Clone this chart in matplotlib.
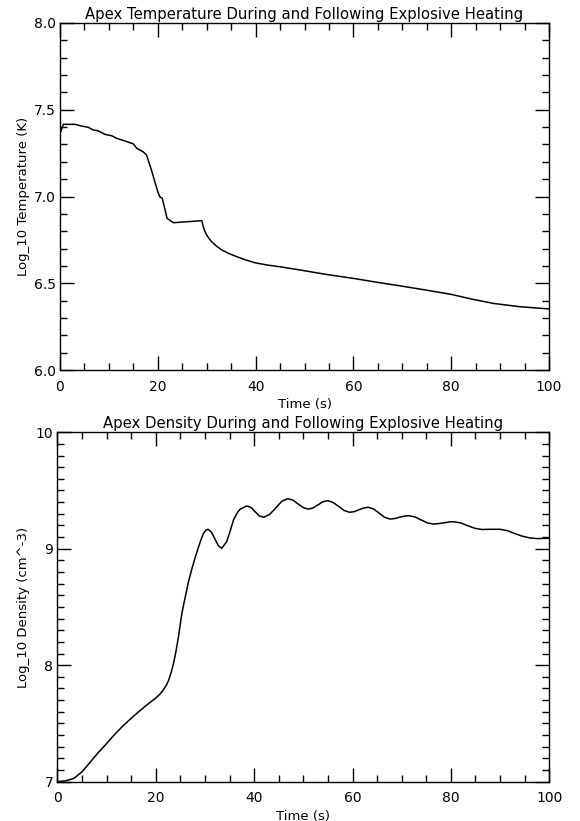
import numpy as np
import matplotlib
matplotlib.use("Agg")
import matplotlib.pyplot as plt
from matplotlib.ticker import MultipleLocator, FormatStrFormatter

# Temperatura en el apice (log10 K)
t_temp = [0.1, 0.7, 3.1, 4.4, 5.8, 6.8, 7.8, 9.2, 10.6, 11.6, 13.3, 15.0, 15.7,
          17.0, 17.7, 18.7, 19.4, 20.0, 20.4, 20.9, 21.5, 21.9, 23.2, 26.2,
          29.0, 29.3, 29.6, 30.0, 30.5, 31.0, 32.0, 33.1, 34.4, 35.8, 37.8,
          39.9, 42.4, 45.0, 49.0, 54.0, 60.0, 65.0, 70.0, 75.0, 80.0, 84.0,
          88.6, 94.0, 100.0]
log_temp = [7.37, 7.416, 7.416, 7.406, 7.399, 7.383, 7.379, 7.358, 7.35, 7.335,
            7.32, 7.303, 7.278, 7.258, 7.239, 7.153, 7.085, 7.028, 6.999, 6.99,
            6.922, 6.874, 6.849, 6.855, 6.861, 6.826, 6.80, 6.778, 6.757, 6.74,
            6.714, 6.692, 6.673, 6.657, 6.636, 6.618, 6.605, 6.595, 6.577,
            6.553, 6.528, 6.505, 6.483, 6.46, 6.436, 6.41, 6.384, 6.365, 6.352]

# Densidad en el apice (log10 cm^-3)
t_dens = [0.0, 1.6, 3.3, 5.0, 6.0, 7.0, 8.3, 9.7, 11.4, 13.1, 14.8, 16.5, 18.2,
          19.9, 20.8, 21.5, 22.1, 22.6, 23.1, 23.6, 24.1, 24.6, 25.0, 25.3,
          25.7, 26.0, 26.6, 27.3, 28.0, 28.7, 29.2, 29.7, 30.2, 30.6,
          31.3, 32.0, 32.7, 33.4, 34.4, 35.1, 35.8, 36.5, 37.1, 38.5, 39.4,
          40.2, 41.0, 41.9, 43.1, 44.4, 45.6, 46.8, 47.9, 48.9, 50.0, 51.0,
          52.0, 53.0, 53.9, 54.9, 56.0, 57.2, 58.3, 59.4, 60.4, 61.3, 62.3,
          63.2, 64.3, 65.4, 66.5, 67.6, 68.6, 69.5, 70.5, 71.4, 72.7, 73.9,
          75.2, 76.4, 77.4, 78.5, 79.5, 80.5, 82.0, 83.4, 84.9, 86.3, 88.0,
          90.0, 91.5, 93.0, 94.5, 96.0, 97.5, 100.0]
log_dens = [7.0, 7.007, 7.027, 7.085, 7.135, 7.185, 7.25, 7.314, 7.395, 7.47,
            7.537, 7.6, 7.66, 7.715, 7.75, 7.786, 7.825, 7.87, 7.935, 8.015,
            8.12, 8.244, 8.36, 8.445, 8.53, 8.588, 8.71, 8.823, 8.925, 9.017,
            9.08, 9.132, 9.16, 9.167,
            9.143, 9.085, 9.027, 9.003, 9.06, 9.15, 9.247, 9.305, 9.338,
            9.367, 9.353, 9.318, 9.283, 9.27, 9.293, 9.35, 9.407, 9.43, 9.417,
            9.385, 9.353, 9.34, 9.351, 9.377, 9.402, 9.413, 9.398, 9.363,
            9.328, 9.313, 9.319, 9.335, 9.35, 9.356, 9.341, 9.306, 9.27,
            9.255, 9.259, 9.27, 9.28, 9.284, 9.273, 9.248, 9.222, 9.212,
            9.215, 9.222, 9.229, 9.232, 9.222, 9.198, 9.175, 9.165, 9.167,
            9.167, 9.155, 9.13, 9.108, 9.093, 9.087, 9.09]

plt.rcParams['font.family'] = 'DejaVu Sans'

fig = plt.figure(figsize=(5.8, 8.21), dpi=100)
ax1 = fig.add_axes([0.1034, 0.5493, 0.8432, 0.4227])
ax2 = fig.add_axes([0.0991, 0.0479, 0.8479, 0.4256])


def estilo(ax):
    for s in ax.spines.values():
        s.set_linewidth(1.0)
    ax.set_xlim(0, 100)
    ax.xaxis.set_major_locator(MultipleLocator(20))
    ax.xaxis.set_minor_locator(MultipleLocator(5))
    ax.tick_params(which='both', direction='in', top=True, right=True,
                   labelsize=10, width=1.0)
    ax.tick_params(which='major', length=10, pad=7)
    ax.tick_params(which='minor', length=5)
    ax.set_xlabel("Time (s)", fontsize=9.5, labelpad=3)


ax1.plot(t_temp, log_temp, color='black', lw=1.1)
estilo(ax1)
ax1.set_ylim(6.0, 8.0)
ax1.yaxis.set_major_locator(MultipleLocator(0.5))
ax1.yaxis.set_minor_locator(MultipleLocator(0.1))
ax1.yaxis.set_major_formatter(FormatStrFormatter('%.1f'))
ax1.tick_params(axis='y', pad=3)
ax1.set_ylabel("Log_10 Temperature (K)", fontsize=9.5)
ax1.yaxis.set_label_coords(-0.061, 0.5)
ax1.set_title("Apex Temperature During and Following Explosive Heating",
              fontsize=10.7, pad=3)

ax2.plot(t_dens, log_dens, color='black', lw=1.1)
estilo(ax2)
ax2.set_ylim(7, 10)
ax2.yaxis.set_major_locator(MultipleLocator(1))
ax2.yaxis.set_minor_locator(MultipleLocator(0.1))
ax2.tick_params(axis='y', pad=3)
ax2.set_ylabel("Log_10 Density (cm^-3)", fontsize=9.5)
ax2.yaxis.set_label_coords(-0.056, 0.5)
ax2.set_title("Apex Density During and Following Explosive Heating",
              fontsize=10.7, pad=3)

fig.savefig("out.png", dpi=100)
